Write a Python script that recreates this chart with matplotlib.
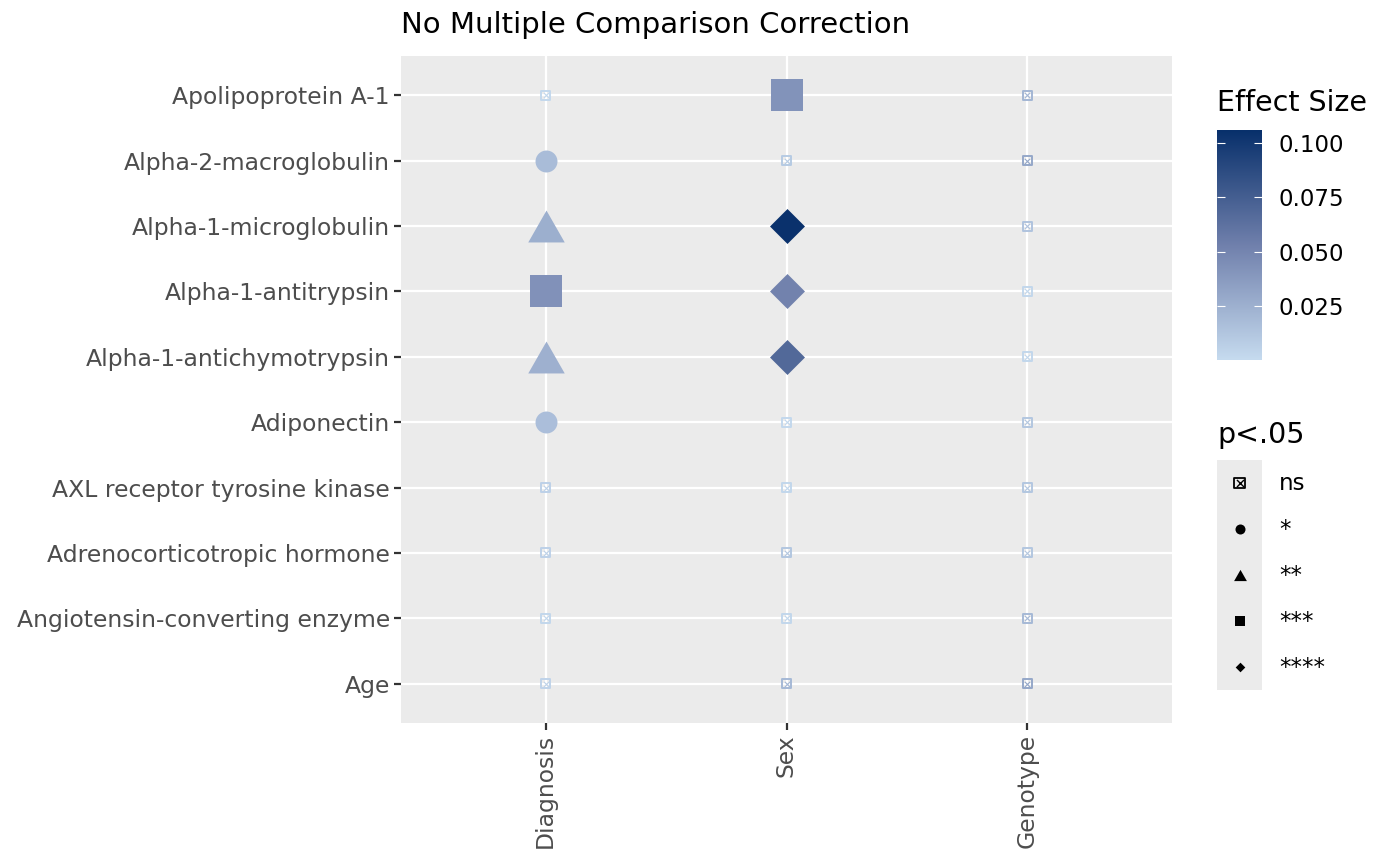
import numpy as np
import matplotlib.pyplot as plt
from matplotlib.colors import LinearSegmentedColormap, Normalize
from matplotlib.path import Path

rows = ["Apolipoprotein A-1", "Alpha-2-macroglobulin", "Alpha-1-microglobulin",
        "Alpha-1-antitrypsin", "Alpha-1-antichymotrypsin", "Adiponectin",
        "AXL receptor tyrosine kinase", "Adrenocorticotropic hormone",
        "Angiotensin-converting enzyme", "Age"]
cols = ["Diagnosis", "Sex", "Genotype"]

# effect size per row, columns Diagnosis / Sex / Genotype
effect = [
    [0.002, 0.042, 0.022],
    [0.018, 0.010, 0.030],
    [0.026, 0.105, 0.014],
    [0.043, 0.052, 0.003],
    [0.025, 0.068, 0.003],
    [0.017, 0.002, 0.012],
    [0.006, 0.003, 0.012],
    [0.006, 0.012, 0.012],
    [0.003, 0.003, 0.020],
    [0.005, 0.020, 0.030],
]
signif = [
    ["ns", "***", "ns"],
    ["*", "ns", "ns"],
    ["**", "****", "ns"],
    ["***", "****", "ns"],
    ["**", "****", "ns"],
    ["*", "ns", "ns"],
    ["ns", "ns", "ns"],
    ["ns", "ns", "ns"],
    ["ns", "ns", "ns"],
    ["ns", "ns", "ns"],
]
levels = ["ns", "*", "**", "***", "****"]

tri = Path([(0, 0.875), (1, -0.875), (-1, -0.875), (0, 0.875)],
           [Path.MOVETO, Path.LINETO, Path.LINETO, Path.CLOSEPOLY])

markers = {"*": "o", "**": tri, "***": "s", "****": "D"}
sizes = {"ns": 42, "*": 250, "**": 690, "***": 530, "****": 317}
leg_sizes = {"ns": 60, "*": 52, "**": 85, "***": 52, "****": 24}

cmap = LinearSegmentedColormap.from_list("es", ["#C6DBEF", "#7080AC", "#08306B"])
norm = Normalize(vmin=0.0002, vmax=0.106)

fig = plt.figure(figsize=(14, 8.66), dpi=100)
ax = fig.add_axes([401/1400, 1-723/866, 771/1400, 667/866])
ax.set_facecolor("#EBEBEB")
for s in ax.spines.values():
    s.set_visible(False)

n = len(rows)
for i, r in enumerate(rows):
    y = n - i
    for j, c in enumerate(cols):
        x = j + 1
        sg = signif[i][j]
        col = cmap(norm(effect[i][j]))
        if sg == "ns":
            ax.scatter(x, y, marker="s", s=sizes[sg], facecolor="none",
                       edgecolor=col, linewidth=1.4, zorder=3)
            ax.scatter(x, y, marker="x", s=14, color=col, linewidth=0.8, zorder=3)
        else:
            ax.scatter(x, y, marker=markers[sg], s=sizes[sg], color=col,
                       linewidth=0, zorder=3)

ax.set_xlim(0.4, 3.6)
ax.set_ylim(0.4, n + 0.6)
ax.set_xticks(range(1, len(cols) + 1))
ax.set_xticklabels(cols, rotation=90)
ax.set_yticks(range(n, 0, -1))
ax.set_yticklabels(rows)
ax.grid(True, color="white", linewidth=1.6)
ax.set_axisbelow(True)
ax.tick_params(colors="#333333", labelcolor="#4D4D4D", labelsize=16.9,
               length=5, width=1.6, pad=3)
fig.text(401/1400, 1-25/866, "No Multiple Comparison Correction",
         fontsize=21, va="center", ha="left")

# colour bar
cax = fig.add_axes([1217/1400, 1-360/866, 45/1400, 230/866])
grad = np.linspace(0.0002, 0.106, 256).reshape(-1, 1)
cax.imshow(grad, aspect="auto", origin="lower", cmap=cmap, norm=norm,
           extent=[0, 1, 0.0002, 0.106])
cax.set_xticks([])
cax.set_yticks([0.025, 0.050, 0.075, 0.100])
cax.set_yticklabels(["0.025", "0.050", "0.075", "0.100"])
cax.yaxis.set_ticks_position("both")
cax.tick_params(axis="y", direction="in", colors="white", labelcolor="black",
                length=6, width=0.8, labelleft=False, labelright=True,
                labelsize=16.5, pad=12)
for s in cax.spines.values():
    s.set_visible(False)
fig.text(1217/1400, 1-103/866, "Effect Size", fontsize=20.5, va="center", ha="left")

# shape legend
lax = fig.add_axes([1217/1400, 1-690/866, 45/1400, 230/866])
lax.set_facecolor("#EBEBEB")
lax.set_xlim(0, 1)
lax.set_ylim(len(levels), 0)
for k, lv in enumerate(levels):
    yk = k + 0.5
    if lv == "ns":
        lax.scatter(0.5, yk, marker="s", s=leg_sizes[lv], facecolor="none",
                    edgecolor="black", linewidth=1.3)
        lax.scatter(0.5, yk, marker="x", s=26, color="black", linewidth=1.0)
    else:
        lax.scatter(0.5, yk, marker=markers[lv], s=leg_sizes[lv], color="black",
                    linewidth=0)
    lax.text(1.38, yk, lv, fontsize=16.5, va="center", ha="left",
             transform=lax.transData, clip_on=False)
lax.set_xticks([])
lax.set_yticks([])
for s in lax.spines.values():
    s.set_visible(False)
fig.text(1217/1400, 1-435/866, "p<.05", fontsize=20.5, va="center", ha="left")

fig.savefig("out.png", dpi=100)
